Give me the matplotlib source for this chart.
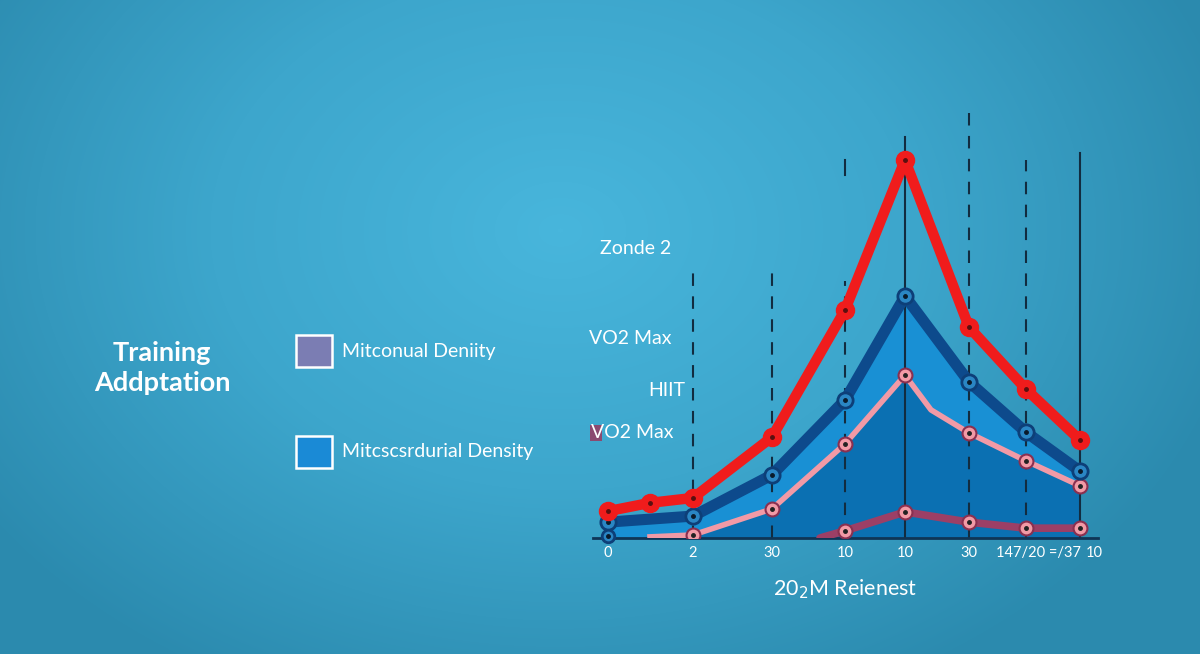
import numpy as np
import matplotlib
matplotlib.use("Agg")
import matplotlib.pyplot as plt
import matplotlib.transforms as mtransforms
from matplotlib.colors import LinearSegmentedColormap
from matplotlib.patches import Rectangle

plt.rcParams['font.family'] = ['Lato', 'DejaVu Sans']

# ---------------- data ----------------
tick_pos = [0, 85, 164, 237, 297, 361, 418, 472]
tick_labels = ['0', '2', '30', '10', '10', '30', '147/20 =/37', '10']

red_x = [0, 42, 85, 164, 237, 297, 361, 418, 472]
red_y = [7.1, 9.3, 10.6, 26.7, 60.3, 100, 55.8, 39.4, 25.9]

navy_x = [0, 85, 164, 237, 297, 361, 418, 472]
navy_y = [4.2, 5.8, 16.7, 36.5, 64.0, 41.3, 28.0, 17.7]

pink_x = [42, 85, 164, 237, 297, 323, 361, 418, 472]
pink_y = [0.3, 0.8, 7.7, 24.9, 43.1, 33.9, 27.8, 20.4, 13.8]
pink_marks = [1, 2, 3, 4, 6, 7, 8]

maroon_x = [212, 237, 297, 361, 418, 472]
maroon_y = [0.0, 1.9, 6.9, 4.2, 2.6, 2.6]

vline_x = [85, 164, 237, 297, 361, 418, 472]
vline_top = [71, 71, 68, 106, 113, 100, 102]
vline_style = ['--', '--', '--', '-', '--', '--', '-']

legend_labels = ['Mitconual Deniity', 'Mitcscsrdurial Density']
legend_colors = ['#7b7db3', '#1a8ad6']

# ---------------- figure ----------------
W, H = 1200, 654
fig = plt.figure(figsize=(12, 6.54), dpi=100)

# background gradient
bg = fig.add_axes([0, 0, 1, 1])
yy, xx = np.mgrid[0:H, 0:W]
r = np.sqrt(((xx - 560) / 700.0) ** 2 + ((yy - 230) / 520.0) ** 2)
r = np.clip(r, 0, 1)
cmap = LinearSegmentedColormap.from_list('bg', ['#48b6dc', '#3da6cc', '#2b8aae'])
bg.imshow(r, cmap=cmap, aspect='auto', extent=[0, W, H, 0], vmin=0, vmax=1)
bg.set_xlim(0, W)
bg.set_ylim(H, 0)
bg.axis('off')

# title and legend
bg.text(162, 368, 'Training\nAddptation', color='white', fontsize=19.5, fontweight='bold',
        ha='center', va='center', linespacing=1.3)
for i, (lab, col) in enumerate(zip(legend_labels, legend_colors)):
    yc = 351 + i * 101
    bg.add_patch(Rectangle((296, yc - 16), 36, 32, facecolor=col, edgecolor='white', lw=1.8))
    bg.text(342, yc, lab, color='white', fontsize=14, va='center', ha='left')

# ---------------- chart axes ----------------
ax = fig.add_axes([593 / W, (H - 538) / H, 505 / W, 438 / H])
ax.set_xlim(-15, 490)
ax.set_ylim(0, 115.9)
ax.patch.set_alpha(0)
for s in ['top', 'right', 'left']:
    ax.spines[s].set_visible(False)
ax.spines['bottom'].set_color('#0f3556')
ax.spines['bottom'].set_linewidth(2)
ax.set_yticks([])
ax.set_xticks(tick_pos)
ax.set_xticklabels(tick_labels, color='white', fontsize=10.5)
ax.tick_params(axis='x', length=0, pad=6)
labs = ax.get_xticklabels()
labs[6].set_transform(labs[6].get_transform() + mtransforms.ScaledTranslation(0.12, 0, fig.dpi_scale_trans))
labs[7].set_transform(labs[7].get_transform() + mtransforms.ScaledTranslation(0.14, 0, fig.dpi_scale_trans))
ax.set_xlabel('20$_2$M Reienest', color='white', fontsize=15.5, labelpad=12)

# fills
ax.fill_between(navy_x, navy_y, 0, color='#1990d4', zorder=1, lw=0)
ax.fill_between(pink_x, pink_y, 0, color='#0b70b2', zorder=1.5, lw=0)

# vertical lines
for x, top, ls in zip(vline_x, vline_top, vline_style):
    ax.plot([x, x], [0, top], color='#122c40', lw=1.5, ls=ls, dashes=(6, 5) if ls == '--' else (None, None),
            zorder=2)
ax.plot([237, 237], [96, 100], color='#122c40', lw=1.5, zorder=2)

# series
ax.plot(maroon_x, maroon_y, color='#9c3f66', lw=5.5, zorder=3, solid_capstyle='round')
ax.plot(maroon_x[1:], maroon_y[1:], 'o', ms=10, mfc='#f29aa6', mec='#8a3050', mew=1.5, zorder=3.5)
ax.plot(maroon_x[1:], maroon_y[1:], 'o', ms=2.5, color='#222222', zorder=3.6)

ax.plot(pink_x, pink_y, color='#f29aa6', lw=4, zorder=4)
px = [pink_x[i] for i in pink_marks]
py = [pink_y[i] for i in pink_marks]
ax.plot(px, py, 'o', ms=10, mfc='#f29aa6', mec='#8a3050', mew=1.5, zorder=4.5)
ax.plot(px, py, 'o', ms=2.5, color='#222222', zorder=4.6)

ax.plot(navy_x, navy_y, color='#0d4a8c', lw=8, zorder=5)
ax.plot(navy_x, navy_y, 'o', ms=11, mfc='#2a86c4', mec='#0d3f78', mew=2, zorder=5.5)
ax.plot(navy_x, navy_y, 'o', ms=2.5, color='#0a1a2a', zorder=5.6)
ax.plot([0], [0.5], 'o', ms=9, mfc='#2a86c4', mec='#0d3f78', mew=2, zorder=5.5, clip_on=False)
ax.plot([0], [0.5], 'o', ms=2.5, color='#0a1a2a', zorder=5.6, clip_on=False)

ax.plot(red_x, red_y, color='#f01c1c', lw=7.5, zorder=6, solid_joinstyle='round')
ax.plot(red_x, red_y, 'o', ms=13, color='#f01c1c', zorder=6.5)
ax.plot(red_x, red_y, 'o', ms=2.5, color='#5a1010', zorder=6.6)

# annotations
bg.text(636, 248, 'Zonde 2', color='white', fontsize=14, ha='center', va='center')
bg.text(630, 338, 'VO2 Max', color='white', fontsize=14, ha='center', va='center')
bg.text(667, 390, 'HIIT', color='white', fontsize=14, ha='center', va='center')
bg.add_patch(Rectangle((590, 425), 12, 16, facecolor='#8a4a70', edgecolor='none'))
bg.text(632, 433, 'VO2 Max', color='white', fontsize=14, ha='center', va='center')

fig.savefig('out.png', dpi=100)
